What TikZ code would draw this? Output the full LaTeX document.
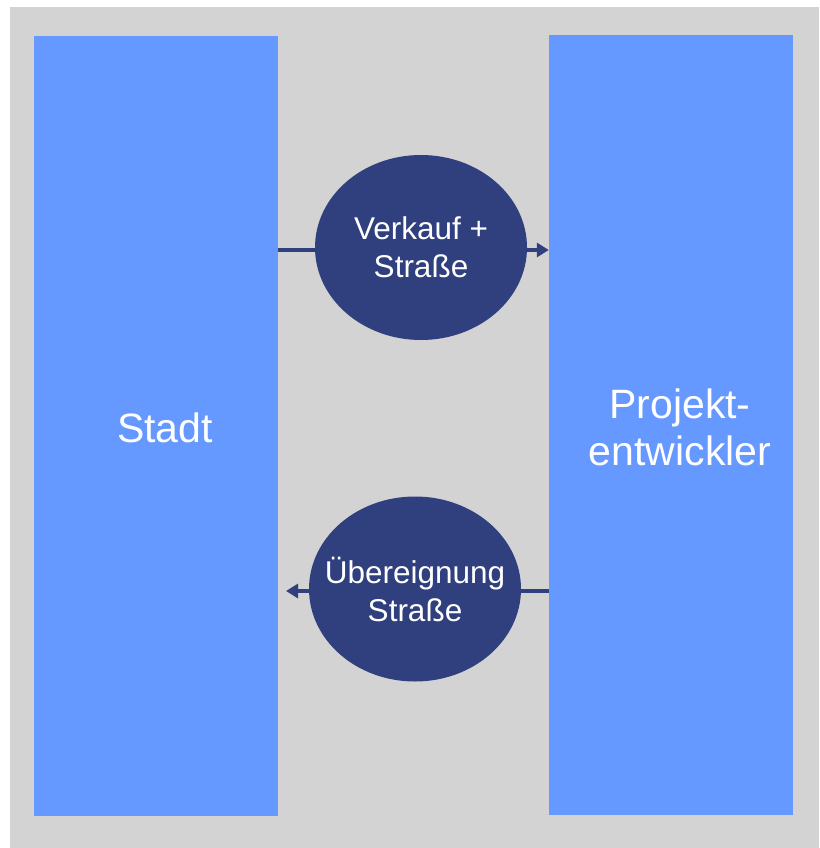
\documentclass[tikz,border=0pt]{standalone}
\usepackage{fontspec}
\setmainfont{Liberation Sans}
\usetikzlibrary{arrows.meta,shapes.geometric}
\definecolor{bg}{HTML}{D3D3D3}
\definecolor{boxblue}{HTML}{6699FF}
\definecolor{navy}{HTML}{303F7D}
\begin{document}
\begin{tikzpicture}[x=1pt,y=-1pt,
  party/.style={draw=none,fill=boxblue,minimum width=244pt,minimum height=780pt,inner sep=0pt},
  partytext/.style={text=white,align=center,font=\fontsize{41}{47}\selectfont},
  deal/.style={ellipse,fill=navy,minimum width=212pt,minimum height=185pt,inner xsep=-40pt,inner ysep=-20pt,text=white,align=center,font=\fontsize{31.5}{38}\selectfont},
  flow/.style={draw=navy,line width=4pt,-{Triangle[length=12pt,width=14pt]}}]
\useasboundingbox (0,0) rectangle (819,848);
\fill[bg] (10,7) rectangle (819,848);
\node[party] (stadt) at (156,426) {};
\node[party] (pe) at (671,425) {};
\node[partytext] at ([xshift=9pt,yshift=-2pt]stadt.center) {Stadt};
\node[partytext] at ([xshift=9pt,yshift=-2pt]pe.center) {Projekt-\\entwickler};
\coordinate (top) at (420,250);
\coordinate (bot) at (415,591);
\coordinate (botend) at (286,591);
\draw[flow] (stadt.east |- top) -- (pe.west |- top);
\draw[flow] (pe.west |- bot) -- (botend);
\node[deal] (v) at (421,247.5) {Verkauf +\\Straße};
\node[deal] (u) at (415,589) {Übereignung\\Straße};
\end{tikzpicture}
\end{document}
